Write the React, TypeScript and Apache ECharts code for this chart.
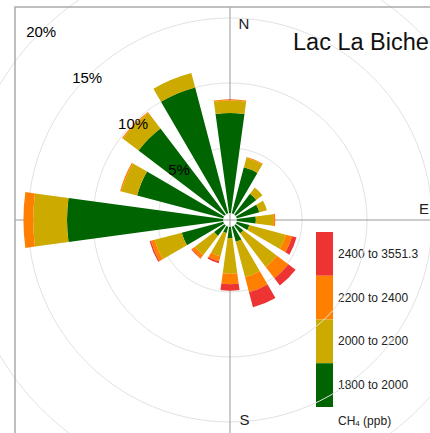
import React, { useEffect, useRef } from "react";
import * as echarts from "echarts";

const directions = ["N", "NNE", "NE", "ENE", "E", "ESE", "SE", "SSE", "S", "SSW", "SW", "WSW", "W", "WNW", "NW", "NNW"];
const bins = ["1800 to 2000", "2000 to 2200", "2200 to 2400", "2400 to 3551.3"];
const binColors = ["#006400", "#CCAA00", "#FF8000", "#EE3333"];
const green = [7.7, 3.65, 2.0, 1.8, 1.45, 1.0, 0.75, 1.2, 0.85, 0.5, 1.0, 3.3, 12.0, 6.85, 8.3, 10.0];
const yellow = [0.95, 0.75, 0.6, 0.6, 1.35, 2.9, 3.25, 2.8, 2.75, 1.85, 1.85, 2.15, 2.6, 1.25, 1.5, 1.15];
const orange = [0.08, 0.08, 0.0, 0.0, 0.15, 0.5, 1.1, 1.2, 0.8, 0.4, 0.3, 0.3, 0.75, 0.1, 0.1, 0.0];
const red = [0.0, 0.0, 0.0, 0.0, 0.0, 0.35, 0.7, 1.2, 0.5, 0.15, 0.05, 0.1, 0.0, 0.0, 0.0, 0.0];
const tickValues = [5, 10, 15, 20];
const title = "Lac La Biche";

const FONT = "'Liberation Sans', Arial, Helvetica, sans-serif";
const CX = 230;
const CY = 220;

export default function App() {
  const ref = useRef<HTMLDivElement>(null);
  useEffect(() => {
    if (!ref.current) return;
    const chart = echarts.init(ref.current, null, { renderer: "svg" });
    const seriesData = [green, yellow, orange, red];
    const legendTop = 232;
    const segH = 43.75;
    const legendGraphics: any[] = [];
    for (let i = 0; i < bins.length; i++) {
      const k = bins.length - 1 - i;
      legendGraphics.push({
        type: "rect",
        shape: { x: 316, y: legendTop + i * segH, width: 17, height: segH },
        style: { fill: binColors[k] },
      });
      legendGraphics.push({
        type: "text",
        x: 338,
        y: legendTop + i * segH + segH / 2,
        style: { text: bins[k], fontSize: 12, fontFamily: FONT, fill: "#222", textAlign: "left", textVerticalAlign: "middle" },
      });
    }
    const baseGraphics: any[] = [
      { type: "line", z: 1, shape: { x1: CX, y1: 7, x2: CX, y2: 440 }, style: { stroke: "#999", lineWidth: 1 } },
      { type: "line", z: 1, shape: { x1: 15, y1: CY, x2: 440, y2: CY }, style: { stroke: "#999", lineWidth: 1 } },
      { type: "rect", z: 1, shape: { x: 15, y: 7, width: 600, height: 600 }, style: { fill: "none", stroke: "#aaa", lineWidth: 1.5 } },
      { type: "text", z: 20, x: 244, y: 23.5, style: { text: "N", fontSize: 15, fontFamily: FONT, fill: "#222", textAlign: "center", textVerticalAlign: "middle" } },
      { type: "text", z: 20, x: 419, y: 208, style: { text: "E", fontSize: 15, fontFamily: FONT, fill: "#222", textAlign: "left", textVerticalAlign: "middle" } },
      { type: "text", z: 20, x: 244.5, y: 419.5, style: { text: "S", fontSize: 15, fontFamily: FONT, fill: "#222", textAlign: "center", textVerticalAlign: "middle" } },
      { type: "text", z: 20, x: 293, y: 42, style: { text: title, fontSize: 23.5, fontFamily: FONT, fill: "#111", textAlign: "left", textVerticalAlign: "middle" } },
      ...legendGraphics,
      {
        type: "text",
        z: 20,
        x: 338,
        y: 420,
        style: {
          text: "{a|CH}{b|4}{a| (ppb)}",
          fontFamily: FONT,
          fill: "#222",
          textAlign: "left",
          textVerticalAlign: "middle",
          rich: {
            a: { fontSize: 12, fontFamily: FONT, fill: "#222", verticalAlign: "bottom", lineHeight: 14 },
            b: { fontSize: 8, fontFamily: FONT, fill: "#222", verticalAlign: "bottom", lineHeight: 12 },
          },
        },
      },
    ];
    chart.setOption({
      animation: false,
      backgroundColor: "#fff",
      polar: { center: [CX, CY], radius: [7, 332] },
      angleAxis: {
        type: "category",
        data: directions,
        startAngle: 90 + 11.25,
        clockwise: true,
        axisLine: { show: false },
        axisTick: { show: false },
        axisLabel: { show: false },
        splitLine: { show: false },
      },
      radiusAxis: {
        type: "value",
        min: 0,
        max: 25,
        interval: 5,
        axisLine: { show: false },
        axisTick: { show: false },
        axisLabel: { show: false },
        splitLine: { show: true, lineStyle: { color: "#e2e2e2", width: 1 } },
      },
      series: seriesData.map((d, i) => ({
        type: "bar",
        name: bins[i],
        coordinateSystem: "polar",
        stack: "total",
        data: d,
        barCategoryGap: "31%",
        itemStyle: { color: binColors[i] },
        silent: true,
        z: 2,
      })),
      graphic: baseGraphics,
    });
    const tickTexts = tickValues.map((v) => {
      const p = chart.convertToPixel({ seriesIndex: 0 }, [v, "NW"]) as number[];
      return {
        type: "text",
        z: 100,
        zlevel: 0,
        x: p[0],
        y: p[1],
        style: { text: `${v}%`, fontSize: 15, fontFamily: FONT, fill: "#000000", stroke: "none", lineWidth: 0, textAlign: "center", textVerticalAlign: "middle" },
      };
    });
    chart.setOption({ graphic: [...baseGraphics, ...tickTexts] });
    return () => chart.dispose();
  }, []);
  return <div ref={ref} style={{ position: "fixed", left: 0, top: 0, width: 430, height: 433, background: "#fff" }} />;
}
